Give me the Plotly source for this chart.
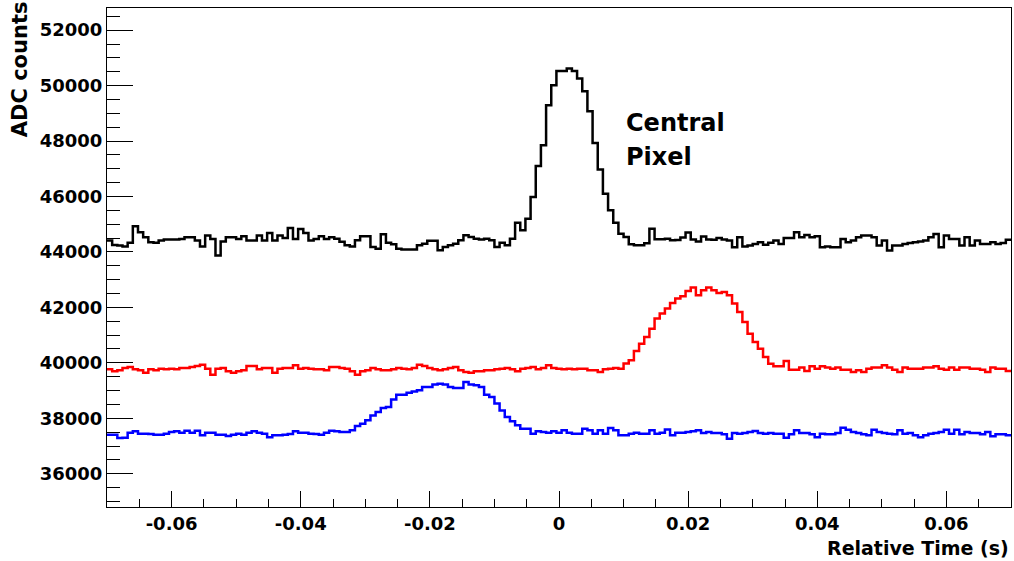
import numpy as np
import plotly.graph_objects as go

# Histogram binning: 175 bins of 0.8 ms spanning -70 ms .. +70 ms
t_min, t_max, n_bins = -0.07, 0.07, 175
edges = np.linspace(t_min, t_max, n_bins + 1)

# ADC counts per bin, central pixel (black)
central = [
    44410, 44250, 44230, 44200, 44330, 44930, 44710, 44530, 44350, 44330,
    44410, 44450, 44450, 44450, 44470, 44530, 44530, 44410, 44200, 44590,
    44470, 43870, 44380, 44530, 44530, 44470, 44570, 44410, 44410, 44590,
    44410, 44680, 44410, 44590, 44500, 44860, 44470, 44830, 44680, 44410,
    44470, 44570, 44470, 44530, 44480, 44370, 44240, 44200, 44420, 44570,
    44570, 44180, 44120, 44640, 44330, 44280, 44120, 44090, 44090, 44090,
    44240, 44300, 44400, 44400, 44060, 44180, 44240, 44300, 44420, 44600,
    44540, 44480, 44450, 44480, 44420, 44180, 44330, 44240, 44480, 45050,
    44780, 45200, 45980, 47100, 47850, 49290, 50010, 50530, 50530, 50620,
    50530, 50260, 49800, 49080, 47930, 46970, 46100, 45500, 45050, 44660,
    44540, 44280, 44240, 44240, 44310, 44840, 44460, 44460, 44480, 44420,
    44430, 44520, 44700, 44450, 44380, 44560, 44450, 44440, 44500, 44450,
    44410, 44170, 44530, 44200, 44230, 44290, 44350, 44260, 44330, 44410,
    44290, 44500, 44500, 44710, 44530, 44610, 44530, 44570, 44170, 44200,
    44170, 44170, 44470, 44350, 44410, 44530, 44590, 44590, 44530, 44230,
    44410, 44050, 44230, 44230, 44290, 44320, 44350, 44380, 44410, 44530,
    44650, 44170, 44590, 44470, 44470, 44230, 44530, 44230, 44410, 44290,
    44290, 44350, 44290, 44320, 44440,
]

# Neighbouring pixel with delayed pulse (red)
pixel_late = [
    39770, 39695, 39730, 39815, 39850, 39770, 39730, 39645, 39770, 39730,
    39790, 39770, 39790, 39770, 39815, 39815, 39850, 39885, 39935, 39790,
    39575, 39790, 39815, 39695, 39645, 39695, 39730, 39885, 39885, 39770,
    39815, 39815, 39645, 39790, 39815, 39815, 39910, 39790, 39815, 39790,
    39770, 39770, 39730, 39850, 39850, 39815, 39790, 39695, 39575, 39695,
    39730, 39815, 39770, 39730, 39730, 39770, 39815, 39790, 39770, 39815,
    39935, 39885, 39815, 39770, 39730, 39770, 39815, 39850, 39730, 39670,
    39645, 39695, 39695, 39730, 39730, 39770, 39790, 39815, 39770, 39695,
    39790, 39815, 39850, 39770, 39815, 39910, 39815, 39790, 39770, 39790,
    39770, 39790, 39790, 39730, 39730, 39670, 39770, 39790, 39815, 39790,
    39980, 40090, 40425, 40690, 40930, 41230, 41600, 41780, 41960, 42160,
    42320, 42400, 42590, 42715, 42440, 42620, 42715, 42620, 42520, 42555,
    42440, 42140, 41835, 41475, 41050, 40750, 40510, 40210, 39970, 39875,
    39875, 40065, 39755, 39755, 39830, 39705, 39875, 39790, 39875, 39830,
    39790, 39830, 39755, 39755, 39670, 39730, 39670, 39790, 39830, 39830,
    39910, 39830, 39755, 39670, 39830, 39790, 39790, 39790, 39830, 39830,
    39875, 39790, 39755, 39830, 39755, 39830, 39830, 39790, 39790, 39755,
    39670, 39830, 39790, 39790, 39705,
]

# Neighbouring pixel with early pulse (blue)
pixel_early = [
    37410, 37410, 37285, 37300, 37480, 37530, 37445, 37445, 37430, 37410,
    37410, 37445, 37505, 37530, 37480, 37555, 37480, 37555, 37385, 37480,
    37480, 37410, 37410, 37360, 37410, 37445, 37410, 37480, 37530, 37480,
    37445, 37320, 37385, 37385, 37410, 37430, 37530, 37480, 37480, 37445,
    37430, 37410, 37480, 37555, 37530, 37505, 37505, 37565, 37720, 37805,
    37925, 38105, 38225, 38370, 38405, 38680, 38850, 38850, 38925, 38970,
    39010, 39125, 39125, 39215, 39250, 39215, 39125, 39090, 39090, 39310,
    39215, 39190, 39125, 38850, 38765, 38530, 38285, 38045, 37890, 37745,
    37625, 37625, 37445, 37530, 37505, 37480, 37530, 37480, 37565, 37480,
    37445, 37445, 37625, 37565, 37445, 37565, 37445, 37650, 37565, 37385,
    37385, 37445, 37480, 37445, 37445, 37565, 37445, 37480, 37600, 37385,
    37480, 37480, 37505, 37530, 37565, 37470, 37505, 37470, 37470, 37420,
    37265, 37470, 37445, 37470, 37505, 37540, 37470, 37445, 37470, 37445,
    37445, 37300, 37420, 37565, 37470, 37470, 37420, 37320, 37445, 37420,
    37420, 37470, 37660, 37590, 37505, 37470, 37420, 37385, 37590, 37505,
    37470, 37445, 37420, 37565, 37445, 37470, 37385, 37320, 37385, 37445,
    37470, 37505, 37590, 37445, 37590, 37420, 37505, 37470, 37470, 37420,
    37505, 37350, 37420, 37420, 37385,
]

x_ticks = [-0.06, -0.04, -0.02, 0, 0.02, 0.04, 0.06]
x_tick_text = ["-0.06", "-0.04", "-0.02", "0", "0.02", "0.04", "0.06"]
y_ticks = [36000, 38000, 40000, 42000, 44000, 46000, 48000, 50000, 52000]
y_tick_text = ["36000", "38000", "40000", "42000", "44000", "46000",
               "48000", "50000", "52000"]
y_range = [34800, 52800]

FONT = "DejaVu Sans"


def step_trace(values, color):
    # bin contents drawn as a histogram outline
    ys = list(values) + [values[-1]]
    return go.Scatter(
        x=edges, y=ys, mode="lines",
        line=dict(color=color, width=2.5, shape="hv"),
        hoverinfo="skip", showlegend=False,
    )


fig = go.Figure()
fig.add_trace(step_trace(central, "#000000"))
fig.add_trace(step_trace(pixel_late, "#ff0000"))
fig.add_trace(step_trace(pixel_early, "#0000ff"))

axis_common = dict(
    showgrid=False, zeroline=False, showline=True, linecolor="black",
    linewidth=1, mirror=True, ticks="inside", tickcolor="black",
    tickwidth=1,
    tickfont=dict(family=FONT, size=18, color="black", weight="bold"),
)

fig.update_xaxes(
    range=[t_min, t_max], tickvals=x_ticks, ticktext=x_tick_text,
    ticklen=16,
    minor=dict(ticks="inside", dtick=0.005, ticklen=8, tickcolor="black",
               tickwidth=1, tick0=0),
    **axis_common,
)
fig.update_yaxes(
    range=y_range, tickvals=y_ticks, ticktext=y_tick_text, ticklen=26,
    minor=dict(ticks="inside", dtick=500, ticklen=13, tickcolor="black",
               tickwidth=1, tick0=0),
    **axis_common,
)

fig.add_annotation(
    text="Relative Time (s)", xref="paper", yref="paper",
    x=1.0, y=-0.082, xanchor="right", yanchor="middle",
    showarrow=False,
    font=dict(family=FONT, size=19, color="black", weight="bold"),
)
fig.add_annotation(
    text="ADC counts", xref="paper", yref="paper",
    x=-0.096, y=1.018, xanchor="center", yanchor="top", textangle=-90,
    showarrow=False,
    font=dict(family=FONT, size=21, color="black", weight="bold"),
)

label_font = dict(family=FONT, size=24, color="black", weight="bold")
fig.add_annotation(
    text="Central", xref="x", yref="y", x=0.0101, y=48644,
    xanchor="left", yanchor="middle", showarrow=False, font=label_font,
)
fig.add_annotation(
    text="Pixel", xref="x", yref="y", x=0.0101, y=47417,
    xanchor="left", yanchor="middle", showarrow=False, font=label_font,
)

fig.update_layout(
    width=1014, height=561,
    margin=dict(l=107, r=3, t=8, b=54),
    paper_bgcolor="white", plot_bgcolor="white",
)

fig.write_html("out.html")
